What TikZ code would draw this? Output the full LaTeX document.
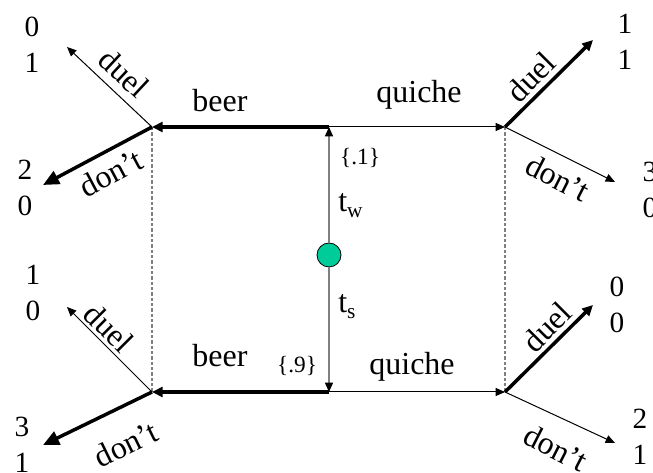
\documentclass[tikz,border=0pt]{standalone}
\usepackage{fontspec}
\setmainfont{Liberation Serif}
\usetikzlibrary{arrows.meta}
\definecolor{natgreen}{RGB}{0,204,153}
\definecolor{linegray}{RGB}{128,128,128}
\newcommand{\subw}[1]{\raisebox{-4pt}{\fontsize{16}{16}\selectfont #1}}
\begin{document}
\begin{tikzpicture}[x=0.75pt,y=-0.75pt,
  thinarr/.style={line width=0.75pt,-{Triangle[length=7pt,width=6pt]}},
  thickarr/.style={line width=2.6pt,-{Triangle[length=8pt,width=7.5pt]}},
  bigarr/.style={line width=2.6pt,-{Triangle[length=12pt,width=10.5pt]}},
  grayarr/.style={line width=1.1pt,draw=linegray,-{Triangle[length=7pt,width=6pt,color=black]}},
  infoset/.style={line width=0.9pt,draw=linegray,dash pattern=on 2.5pt off 1.5pt},
  lbl/.style={font=\fontsize{24}{28}\selectfont,inner sep=0pt},
  prob/.style={font=\fontsize{17.5}{20}\selectfont,inner sep=0pt,anchor=base},
  pay/.style={font=\fontsize{22}{27}\selectfont,align=center,inner sep=0pt},
  chance/.style={circle,draw=black,line width=0.6pt,fill=natgreen,minimum size=18pt,inner sep=0pt}
]
\useasboundingbox (0,0) rectangle (653,473);

% decision points
\coordinate (L1) at (152,127);
\coordinate (M1) at (329,127);
\coordinate (R1) at (505,127);
\coordinate (L2) at (152,392);
\coordinate (M2) at (329,392);
\coordinate (R2) at (505,392);
% arrow tips
\coordinate (tlduel) at (67,47);
\coordinate (tldont) at (43,185);
\coordinate (trduel) at (593,40);
\coordinate (trdont) at (615,182);
\coordinate (blduel) at (67,307);
\coordinate (bldont) at (43,445);
\coordinate (brduel) at (593,305);
\coordinate (brdont) at (615,443);

% information sets
\draw[infoset] (L1) -- (L2);
\draw[infoset] (R1) -- (R2);

% nature
\node[chance] (N) at (329,255) {};
\draw[grayarr] (N) -- (M1);
\draw[grayarr] (N) -- (M2);

% sender moves
\draw[thickarr] (M1) -- (L1);
\draw[thinarr] (M1) -- (R1);
\draw[thickarr] (M2) -- (L2);
\draw[thinarr] (M2) -- (R2);

% receiver moves
\draw[thinarr] (L1) -- (tlduel);
\draw[bigarr] (L1) -- (tldont);
\draw[thickarr] (R1) -- (trduel);
\draw[thinarr] (R1) -- (trdont);
\draw[thinarr] (L2) -- (blduel);
\draw[bigarr] (L2) -- (bldont);
\draw[thickarr] (R2) -- (brduel);
\draw[thinarr] (R2) -- (brdont);

% labels
\node[lbl,anchor=base] (beer1) at (220,112) {beer};
\node[lbl,anchor=base] (quiche1) at (419,103) {quiche};
\node[lbl,anchor=base] (beer2) at (220,367) {beer};
\node[lbl,anchor=base] (quiche2) at (412,375) {quiche};
\node[prob] (p1) at (360,165) {\{.1\}};
\node[prob] (p9) at (297,373) {\{.9\}};
\node[lbl,anchor=base west] (tw) at (338,212) {t\subw{w}};
\node[lbl,anchor=base west] (ts) at (338,313) {t\subw{s}};

\node[lbl,rotate=-43] (l1) at (124,73) {duel};
\node[lbl,rotate=28] (l2) at (111,173) {don’t};
\node[lbl,rotate=45] (l3) at (531,77) {duel};
\node[lbl,rotate=-27] (l4) at (558,178) {don’t};
\node[lbl,rotate=-45] (l5) at (109,328) {duel};
\node[lbl,rotate=26] (l6) at (126,444) {don’t};
\node[lbl,rotate=45] (l7) at (547,327) {duel};
\node[lbl,rotate=-27] (l8) at (556,448) {don’t};

% payoffs
\node[pay] (u1) at (32,45) {0\\1};
\node[pay] (u2) at (25,188) {2\\0};
\node[pay] (u3) at (625,42) {1\\1};
\node[pay] (u4) at (650,190) {3\\0};
\node[pay] (u5) at (33,293) {1\\0};
\node[pay] (u6) at (22,445) {3\\1};
\node[pay] (u7) at (617,305) {0\\0};
\node[pay] (u8) at (640,437) {2\\1};
\end{tikzpicture}
\end{document}
